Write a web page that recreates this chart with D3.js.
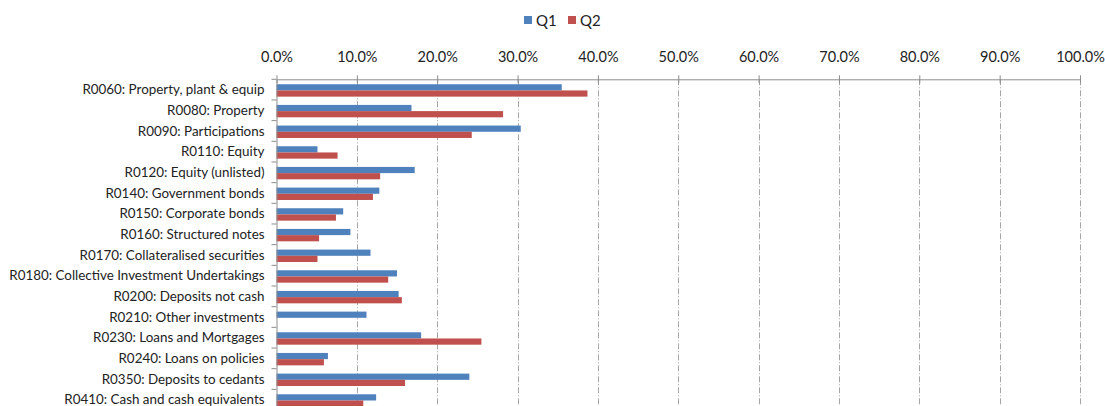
<!DOCTYPE html>
<html>
<head>
<meta charset="utf-8">
<script src="https://cdn.jsdelivr.net/npm/d3@7"></script>
<style>
  html, body { margin: 0; padding: 0; background: #fff; }
  svg { display: block; }
  text { font-family: Lato, "Open Sans", sans-serif; fill: #222; }
</style>
</head>
<body>
<svg id="chart" width="1105" height="406"></svg>
<script>
const categories = [
  "R0060: Property, plant & equip",
  "R0080: Property",
  "R0090: Participations",
  "R0110: Equity",
  "R0120: Equity (unlisted)",
  "R0140: Government bonds",
  "R0150: Corporate bonds",
  "R0160: Structured notes",
  "R0170: Collateralised securities",
  "R0180: Collective Investment Undertakings",
  "R0200: Deposits not cash",
  "R0210: Other investments",
  "R0230: Loans and Mortgages",
  "R0240: Loans on policies",
  "R0350: Deposits to cedants",
  "R0410: Cash and cash equivalents"
];
const seriesNames = ["Q1", "Q2"];
const q1 = [0.355, 0.168, 0.304, 0.051, 0.172, 0.128, 0.083, 0.092, 0.117, 0.150, 0.152, 0.112, 0.180, 0.064, 0.240, 0.124];
const q2 = [0.387, 0.282, 0.243, 0.076, 0.129, 0.120, 0.074, 0.053, 0.051, 0.139, 0.156, 0.000, 0.255, 0.059, 0.160, 0.108];
const tickValues = [0, 0.1, 0.2, 0.3, 0.4, 0.5, 0.6, 0.7, 0.8, 0.9, 1.0];
const colors = ["#4F81BD", "#C0504D"];

(function () {
const svg = d3.select("#chart");
const mLeft = 276.5, mRight = 1080, mTop = 79.3, band = 20.67;
const mBottom = mTop + band * categories.length;

const x = d3.scaleLinear().domain([0, 1]).range([mLeft, mRight]);
const y = d3.scaleBand().domain(categories).range([mTop, mBottom]).paddingInner(0.4).paddingOuter(0.2);
const y0 = d3.scaleBand().domain(categories).range([mTop, mBottom]).padding(0);
const ySub = d3.scaleBand().domain(seriesNames).range([0, y.bandwidth()]);

// gridlines
svg.append("g").selectAll("line").data(tickValues.slice(1)).join("line")
  .attr("x1", d => Math.round(x(d)) + 0.5).attr("x2", d => Math.round(x(d)) + 0.5)
  .attr("y1", mTop).attr("y2", mBottom)
  .attr("stroke", "#a6a6a6").attr("stroke-width", 1)
  .attr("stroke-dasharray", "6,2,1,2");

// bars
const data = [q1, q2];
const gBars = svg.append("g");
seriesNames.forEach((s, si) => {
  gBars.append("g").selectAll("rect").data(categories).join("rect")
    .attr("x", x(0))
    .attr("y", (d) => y(d) + ySub(s) + 0.8)
    .attr("width", (d, i) => x(data[si][i]) - x(0))
    .attr("height", ySub.bandwidth())
    .attr("fill", colors[si]);
});

// top axis
const xAxis = d3.axisTop(x).tickValues(tickValues).tickFormat(d3.format(".1%")).tickSize(0).tickPadding(0);
const gx = svg.append("g").attr("transform", `translate(0,${mTop})`).call(xAxis);
gx.select(".domain").attr("stroke", "#8c8c8c");
gx.selectAll(".tick line").remove();
gx.selectAll(".tick").append("line").attr("y1", -4).attr("y2", 4).attr("stroke", "#8c8c8c");
gx.selectAll(".tick text").attr("y", -17).attr("font-size", 14.5).attr("font-family", "Lato, sans-serif").attr("fill", "#222");

// left axis
const yAxis = d3.axisLeft(y0).tickSize(0).tickPadding(12);
const gy = svg.append("g").attr("transform", `translate(${mLeft},0)`).call(yAxis);
gy.select(".domain").attr("stroke", "#8c8c8c");
gy.selectAll(".tick text").attr("font-size", 13.4).attr("font-family", "Lato, sans-serif").attr("fill", "#222").attr("dy", "0.35em");
// category boundary ticks
svg.append("g").selectAll("line").data(d3.range(categories.length + 1)).join("line")
  .attr("x1", mLeft - 5).attr("x2", mLeft)
  .attr("y1", i => mTop + i * band).attr("y2", i => mTop + i * band)
  .attr("stroke", "#8c8c8c");

// legend
const legend = svg.append("g");
const legX = [524, 568];
seriesNames.forEach((s, i) => {
  legend.append("rect").attr("x", legX[i]).attr("y", 16).attr("width", 8).attr("height", 8).attr("fill", colors[i]);
  legend.append("text").attr("x", legX[i] + 12).attr("y", 25.5).attr("font-size", 15).text(s);
});
})();
</script>
</body>
</html>
